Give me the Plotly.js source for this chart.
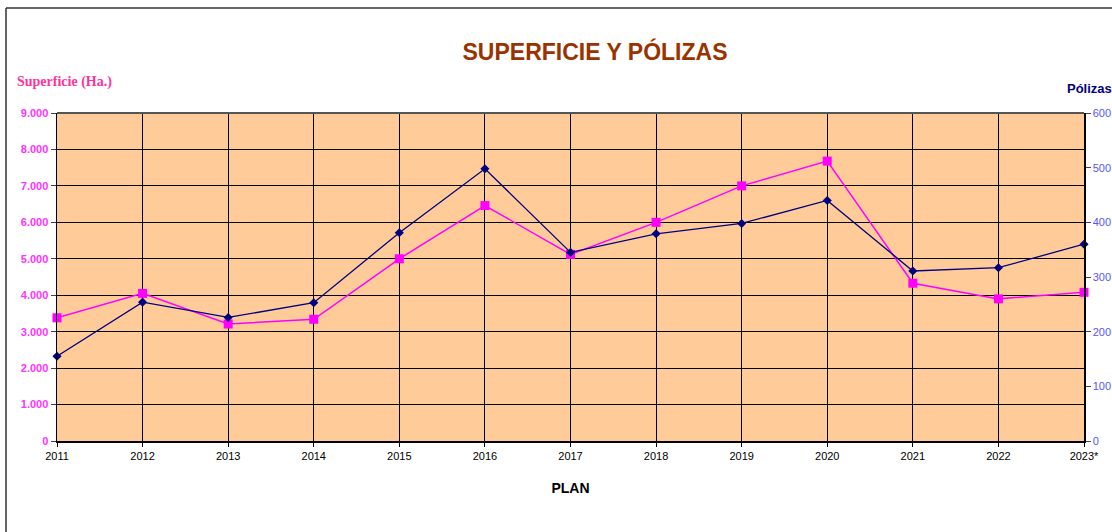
<!DOCTYPE html>
<html>
<head>
<meta charset="utf-8">
<script src="https://cdn.plot.ly/plotly-3.0.1.min.js"></script>
<style>html,body{margin:0;padding:0;background:#fff;}#chart{width:1112px;height:532px;}</style>
</head>
<body>
<div id="chart"></div>
<script>
const years = ["2011","2012","2013","2014","2015","2016","2017","2018","2019","2020","2021","2022","2023*"];
const superficie = [3380, 4050, 3210, 3340, 5000, 6460, 5120, 6000, 7000, 7680, 4330, 3900, 4080];
const polizas = [155, 254, 226, 253, 381, 498, 345, 379, 398, 440, 311, 317, 360];
const leftTicks = [0,1000,2000,3000,4000,5000,6000,7000,8000,9000];
const rightTicks = [0,100,200,300,400,500,600];

const traces = [
  {
    x: years, y: superficie, name: "Superficie (Ha.)", type: "scatter", mode: "lines+markers",
    line: {color: "#FF00FF", width: 1.5},
    marker: {symbol: "square", size: 9, color: "#FF00FF"},
    cliponaxis: false, yaxis: "y"
  },
  {
    x: years, y: polizas, name: "Pólizas", type: "scatter", mode: "lines+markers",
    line: {color: "#000080", width: 1.3},
    marker: {symbol: "diamond", size: 7, color: "#000080"},
    cliponaxis: false, yaxis: "y2"
  }
];

const W = 1027, H = 328, L = 57, B = 441;
const px = x => (x - L) / W;
const py = y => (B - y) / H;

const layout = {
  width: 1112, height: 532,
  margin: {l: 57, r: 28, t: 113, b: 91, pad: 0},
  paper_bgcolor: "#ffffff",
  plot_bgcolor: "#FFCC99",
  separators: ",.",
  showlegend: false,
  font: {family: "Arial, Liberation Sans, sans-serif", size: 11, color: "#000"},
  title: {
    text: "<b>SUPERFICIE Y PÓLIZAS</b>",
    font: {family: "Arial, Liberation Sans, sans-serif", size: 23, color: "#993300"},
    x: 595 / 1112, xanchor: "center", xref: "container",
    y: 1 - 52 / 532, yanchor: "middle", yref: "container"
  },
  xaxis: {
    type: "category", categoryarray: years,
    range: [0, 12], showgrid: true, gridcolor: "#000", gridwidth: 1,
    showline: true, linecolor: "#000", linewidth: 1.5,
    ticks: "outside", ticklen: 4, tickcolor: "#000",
    tickfont: {size: 11, color: "#000", family: "Arial, Liberation Sans, sans-serif"},
    zeroline: false, fixedrange: true,
    title: {text: "<b>PLAN</b>", font: {size: 14, color: "#000"}, standoff: 22}
  },
  yaxis: {
    range: [0, 9000], tickvals: leftTicks, tickformat: ",d",
    showgrid: true, gridcolor: "#000", gridwidth: 1,
    showline: true, linecolor: "#000", linewidth: 1.5,
    ticks: "outside", ticklen: 5, tickcolor: "#444",
    tickfont: {size: 11, color: "#FF33FF", family: "Arial, Liberation Sans, sans-serif", weight: "bold"},
    zeroline: false, fixedrange: true
  },
  yaxis2: {
    range: [0, 600], tickvals: rightTicks, overlaying: "y", side: "right",
    showgrid: false, showline: true, linecolor: "#000", linewidth: 1.5,
    ticks: "outside", ticklen: 5, tickcolor: "#444",
    tickfont: {size: 11, color: "#5555FF", family: "Arial, Liberation Sans, sans-serif"},
    zeroline: false, fixedrange: true
  },
  shapes: [
    {type: "line", xref: "paper", yref: "paper", x0: px(6), x1: px(6), y0: py(8), y1: py(540), line: {color: "#333", width: 1.5}},
    {type: "line", xref: "paper", yref: "paper", x0: px(6), x1: px(1120), y0: py(8), y1: py(8), line: {color: "#333", width: 1.5}},
    {type: "line", xref: "paper", yref: "paper", x0: 0, x1: 1, y0: 1, y1: 1, line: {color: "#555", width: 2}}
  ],
  annotations: [
    {text: "<b>Superficie (Ha.)</b>", xref: "paper", yref: "paper", x: px(15), y: py(82),
     xanchor: "left", yanchor: "middle", showarrow: false,
     font: {family: "Liberation Serif, Times New Roman, serif", size: 14, color: "#FF3399"}},
    {text: "<b>Pólizas</b>", xref: "paper", yref: "paper", x: px(1065), y: py(88),
     xanchor: "left", yanchor: "middle", showarrow: false,
     font: {family: "Arial, Liberation Sans, sans-serif", size: 13, color: "#000080"}}
  ]
};

Plotly.newPlot("chart", traces, layout, {displayModeBar: false, staticPlot: true});
</script>
</body>
</html>
